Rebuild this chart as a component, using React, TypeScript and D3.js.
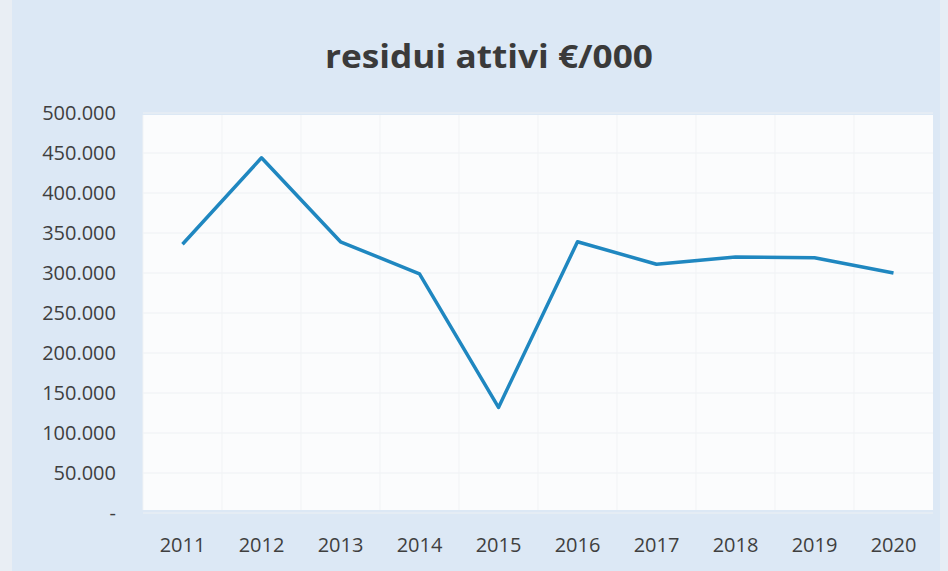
import React, { useMemo } from "react";
import * as d3 from "d3";

const years: string[] = ["2011", "2012", "2013", "2014", "2015", "2016", "2017", "2018", "2019", "2020"];
const values: number[] = [336, 444, 339, 299, 132, 339, 311, 320, 319, 300];
const yTicks: number[] = [0, 50, 100, 150, 200, 250, 300, 350, 400, 450, 500];
const title = "residui attivi €/000";

const W = 948;
const H = 571;
const plot = { left: 143, right: 933, top: 113, bottom: 513 };

function fmt(v: number): string {
  if (v === 0) return "-";
  return `${v}.000`;
}

export default function App() {
  const x = useMemo(
    () => d3.scaleBand<string>().domain(years).range([plot.left, plot.right]).padding(0),
    []
  );
  const y = useMemo(() => d3.scaleLinear().domain([0, 500]).range([plot.bottom, plot.top]), []);
  const line = d3
    .line<number>()
    .x((_, i) => (x(years[i]) as number) + x.bandwidth() / 2)
    .y((d) => y(d));

  const font = "'Open Sans', 'Noto Sans', sans-serif";

  return (
    <svg
      width={W}
      height={H}
      style={{ position: "absolute", left: 0, top: 0, display: "block" }}
      viewBox={`0 0 ${W} ${H}`}
    >
      <rect x={0} y={0} width={W} height={H} fill="#dce8f5" />
      <rect x={0} y={0} width={12} height={H} fill="#e9eef4" />
      <rect x={W - 8} y={0} width={8} height={H} fill="#e6edf5" />
      <rect x={plot.left} y={plot.top + 2} width={plot.right - plot.left} height={plot.bottom - plot.top - 5} fill="#fbfcfd" />
      {yTicks.map((t) => (
        <line key={"g" + t} x1={plot.left} x2={plot.right} y1={y(t)} y2={y(t)} stroke="#eef1f4" strokeWidth={1} />
      ))}
      {years.map((yr) => (
        <line
          key={"v" + yr}
          x1={(x(yr) as number)}
          x2={(x(yr) as number)}
          y1={plot.top + 2}
          y2={plot.bottom - 3}
          stroke="#f1f3f5"
          strokeWidth={1}
        />
      ))}
      <text
        x={489}
        y={68}
        textAnchor="middle"
        fontFamily={font}
        fontWeight={700}
        fontSize={33}
        fill="#3a3a3a"
        textLength={328}
        lengthAdjust="spacingAndGlyphs"
      >
        {title}
      </text>
      {yTicks.map((t) => (
        <text
          key={"yl" + t}
          x={116}
          y={y(t) + 7}
          textAnchor="end"
          fontFamily={font}
          fontSize={20}
          fill="#3f3f3f"
        >
          {fmt(t)}
        </text>
      ))}
      {years.map((yr) => (
        <text
          key={"xl" + yr}
          x={(x(yr) as number) + x.bandwidth() / 2}
          y={552}
          textAnchor="middle"
          fontFamily={font}
          fontSize={20}
          fill="#3f3f3f"
        >
          {yr}
        </text>
      ))}
      <path d={line(values) || ""} fill="none" stroke="#1f87c0" strokeWidth={3.5} strokeLinejoin="round" />
    </svg>
  );
}
